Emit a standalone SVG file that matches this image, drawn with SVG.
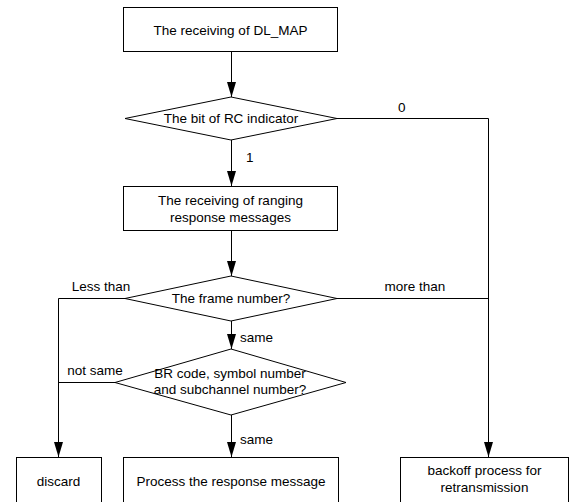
<svg xmlns="http://www.w3.org/2000/svg" width="572" height="502" viewBox="0 0 572 502">
<style>
.n{fill:#fff;stroke:#000;stroke-width:1}
.t{font-family:"Liberation Sans",Arial,sans-serif;font-size:13.5px;fill:#000;text-anchor:middle}
.l{font-family:"Liberation Sans",Arial,sans-serif;font-size:13.5px;fill:#000}
.c{fill:none;stroke:#000;stroke-width:1}
</style>
<defs>
<marker id="ah" markerUnits="userSpaceOnUse" markerWidth="15" markerHeight="10" refX="15" refY="4.5" orient="auto">
<path d="M0,0 L15,4.5 L0,9 z" fill="#000"/>
</marker>
</defs>
<rect width="572" height="502" fill="#fff"/>
<g id="connectors">
<path class="c" d="M231.5,52 V97" marker-end="url(#ah)"/>
<path class="c" d="M231.5,140 V186" marker-end="url(#ah)"/>
<path class="c" d="M337,118.5 H488.5 V457" marker-end="url(#ah)"/>
<path class="c" d="M231.5,231 V276" marker-end="url(#ah)"/>
<path class="c" d="M337,298.5 H488.5"/>
<path class="c" d="M125,298.5 H58.5 V457" marker-end="url(#ah)"/>
<path class="c" d="M231.5,321 V349" marker-end="url(#ah)"/>
<path class="c" d="M115,382.5 H58.5"/>
<path class="c" d="M231.5,415 V457" marker-end="url(#ah)"/>
<text class="l" x="398" y="112">0</text>
<text class="l" x="246" y="162">1</text>
<text class="t" x="101" y="291">Less than</text>
<text class="t" x="415" y="291">more than</text>
<text class="l" x="240" y="342">same</text>
<text class="t" x="95" y="375">not same</text>
<text class="l" x="240" y="444">same</text>
</g>
<g id="n1">
<rect class="n" x="123.5" y="7.5" width="214" height="44"/>
<text class="t" x="230.5" y="35">The receiving of DL_MAP</text>
</g>
<g id="d1">
<polygon class="n" points="231,97 337,118.5 231,140 125,118.5"/>
<text class="t" x="231" y="123">The bit of RC indicator</text>
</g>
<g id="n2">
<rect class="n" x="123.5" y="186.5" width="214" height="44"/>
<text class="t" x="230.5" y="205">The receiving of ranging</text>
<text class="t" x="230.5" y="222">response messages</text>
</g>
<g id="d2">
<polygon class="n" points="231,276 337,298.5 231,321 125,298.5"/>
<text class="t" x="231" y="303">The frame number?</text>
</g>
<g id="d3">
<polygon class="n" points="231,349 346,382.5 231,415 115,382.5"/>
<text class="t" x="230" y="378">BR code, symbol number</text>
<text class="t" x="230" y="394">and subchannel number?</text>
</g>
<g id="n3">
<rect class="n" x="16.5" y="457.5" width="85" height="50"/>
<text class="t" x="58.5" y="486">discard</text>
</g>
<g id="n4">
<rect class="n" x="123.5" y="457.5" width="215" height="50"/>
<text class="t" x="231" y="486">Process the response message</text>
</g>
<g id="n5">
<rect class="n" x="400.5" y="457.5" width="168" height="50"/>
<text class="t" x="484.5" y="475">backoff process for</text>
<text class="t" x="484.5" y="492">retransmission</text>
</g>
</svg>
